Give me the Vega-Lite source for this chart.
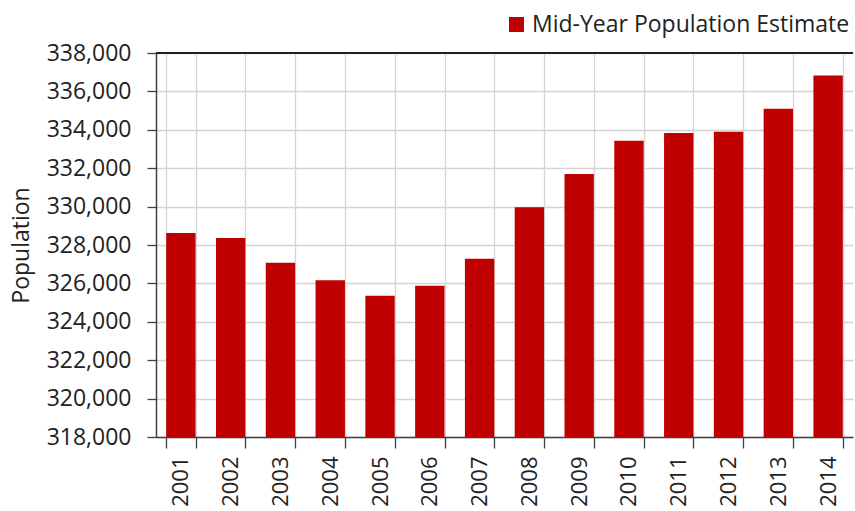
{
  "$schema": "https://vega.github.io/schema/vega-lite/v6.json",
  "autosize": "none",
  "width": 697,
  "height": 384,
  "padding": {"left": 156, "top": 53, "right": 2, "bottom": 74},
  "background": "white",
  "config": {
    "view": {"stroke": null},
    "font": "Open Sans"
  },
  "data": {
    "values": [
      {"year": "2001", "population": 328625, "series": "Mid-Year Population Estimate"},
      {"year": "2002", "population": 328365, "series": "Mid-Year Population Estimate"},
      {"year": "2003", "population": 327080, "series": "Mid-Year Population Estimate"},
      {"year": "2004", "population": 326160, "series": "Mid-Year Population Estimate"},
      {"year": "2005", "population": 325360, "series": "Mid-Year Population Estimate"},
      {"year": "2006", "population": 325880, "series": "Mid-Year Population Estimate"},
      {"year": "2007", "population": 327290, "series": "Mid-Year Population Estimate"},
      {"year": "2008", "population": 329960, "series": "Mid-Year Population Estimate"},
      {"year": "2009", "population": 331700, "series": "Mid-Year Population Estimate"},
      {"year": "2010", "population": 333430, "series": "Mid-Year Population Estimate"},
      {"year": "2011", "population": 333830, "series": "Mid-Year Population Estimate"},
      {"year": "2012", "population": 333900, "series": "Mid-Year Population Estimate"},
      {"year": "2013", "population": 335100, "series": "Mid-Year Population Estimate"},
      {"year": "2014", "population": 336830, "series": "Mid-Year Population Estimate"}
    ]
  },
  "layer": [
    {
      "mark": {"type": "bar", "clip": true},
      "encoding": {
        "x": {
          "field": "year",
          "type": "ordinal",
          "scale": {"paddingInner": 0.41, "paddingOuter": 0.205},
          "axis": {
            "title": null,
            "tickBand": "extent",
            "grid": true,
            "gridColor": "#d4d4d4",
            "gridWidth": 1.3,
            "ticks": true,
            "tickSize": 11,
            "tickColor": "#404040",
            "tickWidth": 1.3,
            "domainColor": "#404040",
            "domainWidth": 1.5,
            "labelAngle": -90,
            "labelFontSize": 22,
            "labelColor": "#222",
            "labelPadding": 8,
            "labelOverlap": false,
            "labelFont": "Open Sans"
          }
        },
        "y": {
          "field": "population",
          "type": "quantitative",
          "scale": {"domain": [318000, 338000], "zero": false, "nice": false},
          "axis": {
            "title": "Population",
            "titleFontSize": 23,
            "titleFontWeight": "normal",
            "titleColor": "#222",
            "titlePadding": 13,
            "values": [318000, 320000, 322000, 324000, 326000, 328000, 330000, 332000, 334000, 336000, 338000],
            "tickCount": 30,
            "format": ",d",
            "labelOverlap": false,
            "grid": true,
            "gridColor": "#d4d4d4",
            "gridWidth": 1.3,
            "tickSize": 9,
            "tickColor": "#404040",
            "tickWidth": 1.3,
            "domainColor": "#404040",
            "domainWidth": 1.5,
            "labelFontSize": 23,
            "labelColor": "#222",
            "labelPadding": 16
          }
        },
        "color": {
          "field": "series",
          "type": "nominal",
          "scale": {"range": ["#C00000"]},
          "legend": {
            "title": null,
            "orient": "none",
            "legendX": 349,
            "legendY": -40,
            "symbolType": "square",
            "symbolSize": 225,
            "symbolStrokeWidth": 0,
            "labelFontSize": 23,
            "labelLimit": 500,
            "labelColor": "#222",
            "labelFont": "Open Sans",
            "padding": 0
          }
        }
      }
    },
    {
      "mark": {"type": "rule", "color": "#222", "strokeWidth": 1.5},
      "encoding": {"y": {"datum": 338000}}
    }
  ]
}
